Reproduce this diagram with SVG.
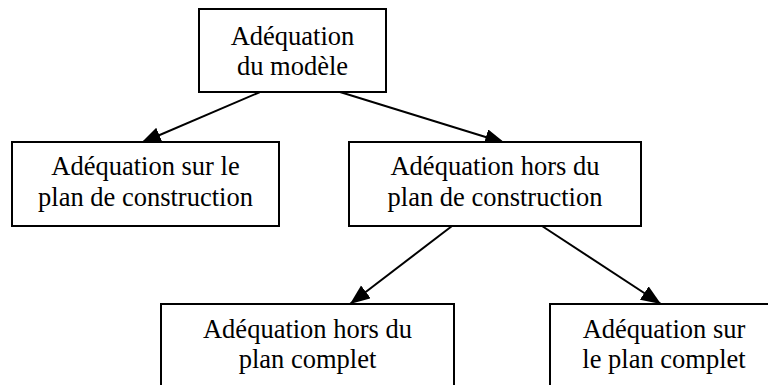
<svg xmlns="http://www.w3.org/2000/svg" width="768" height="385" viewBox="0 0 768 385">
  <style>
    .box { fill: #ffffff; stroke: #000000; stroke-width: 2; }
    .label { font-family: "Liberation Serif", "Times New Roman", serif; font-size: 26.5px; fill: #000000; text-anchor: middle; }
    .edge { stroke: #000000; stroke-width: 2; fill: none; marker-end: url(#arrow); }
  </style>
  <defs>
    <marker id="arrow" markerUnits="userSpaceOnUse" markerWidth="22" markerHeight="18" refX="20" refY="8" orient="auto">
      <path d="M0,0 L20,8 L0,16 Z" fill="#000000"/>
    </marker>
  </defs>
  <rect width="768" height="385" fill="#ffffff"/>

  <g id="connectors">
    <line class="edge" x1="260" y1="92" x2="141" y2="143"/>
    <line class="edge" x1="340" y1="92" x2="505" y2="143"/>
    <line class="edge" x1="452" y1="226" x2="350" y2="304"/>
    <line class="edge" x1="542" y1="226" x2="661" y2="304"/>
  </g>

  <g id="modele">
    <rect class="box" x="199" y="9" width="187" height="83"/>
    <text class="label" x="292.5" y="45">Adéquation</text>
    <text class="label" x="292.5" y="75">du modèle</text>
  </g>

  <g id="sur-construction">
    <rect class="box" x="12" y="142" width="267" height="84"/>
    <text class="label" x="145.5" y="175">Adéquation sur le</text>
    <text class="label" x="145.5" y="206">plan de construction</text>
  </g>

  <g id="hors-construction">
    <rect class="box" x="349" y="142" width="292" height="84"/>
    <text class="label" x="495" y="175">Adéquation hors du</text>
    <text class="label" x="495" y="206">plan de construction</text>
  </g>

  <g id="hors-complet">
    <rect class="box" x="161" y="304" width="293" height="100"/>
    <text class="label" x="307.5" y="338">Adéquation hors du</text>
    <text class="label" x="307.5" y="368">plan complet</text>
  </g>

  <g id="sur-complet">
    <rect class="box" x="550" y="304" width="230" height="100"/>
    <text class="label" x="664" y="338">Adéquation sur</text>
    <text class="label" x="664" y="368">le plan complet</text>
  </g>
</svg>
